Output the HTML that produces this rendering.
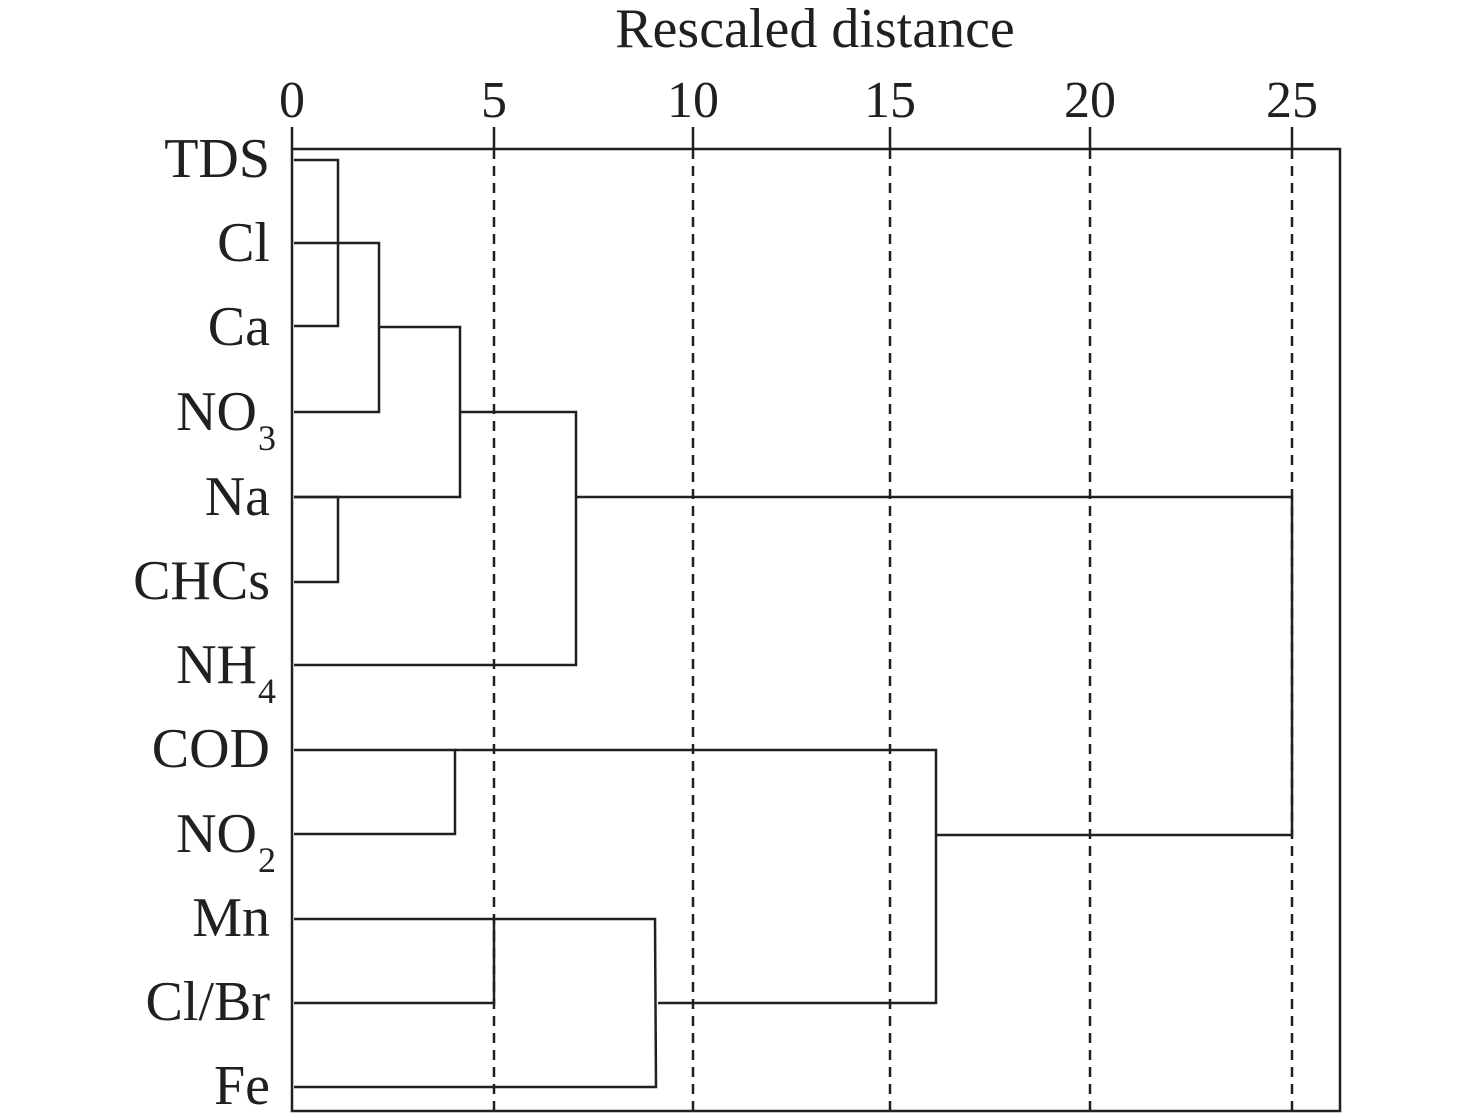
<!DOCTYPE html>
<html><head><meta charset="utf-8"><style>
html,body{margin:0;padding:0;background:#fff;}
svg{display:block;}
text{font-family:"Liberation Serif",serif;fill:#231f20;}
</style></head><body>
<svg width="1476" height="1119" viewBox="0 0 1476 1119" xmlns="http://www.w3.org/2000/svg">
<text x="815" y="47" font-size="56" text-anchor="middle">Rescaled distance</text>
<g font-size="52" text-anchor="middle">
<text x="292" y="117">0</text>
<text x="494" y="117">5</text>
<text x="693" y="117">10</text>
<text x="890" y="117">15</text>
<text x="1090" y="117">20</text>
<text x="1292" y="117">25</text>
</g>
<g stroke="#231f20" stroke-width="2.5" fill="none">
<line x1="292" y1="127" x2="292" y2="149"/>
<line x1="494" y1="127" x2="494" y2="149"/>
<line x1="693" y1="127" x2="693" y2="149"/>
<line x1="890" y1="127" x2="890" y2="149"/>
<line x1="1090" y1="127" x2="1090" y2="149"/>
<line x1="1292" y1="127" x2="1292" y2="149"/>
<g stroke-dasharray="10,7">
<line x1="494" y1="149" x2="494" y2="1111"/>
<line x1="693" y1="149" x2="693" y2="1111"/>
<line x1="890" y1="149" x2="890" y2="1111"/>
<line x1="1090" y1="149" x2="1090" y2="1111"/>
<line x1="1292" y1="149" x2="1292" y2="1111"/>
</g>
<rect x="292" y="149" width="1048" height="962"/>
<polyline points="294,160 338,160 338,326 294,326"/>
<polyline points="294,243 379,243 379,412 294,412"/>
<polyline points="379,327 460,327 460,497 294,497"/>
<polyline points="294,497 338,497 338,582 294,582"/>
<polyline points="460,412 576,412 576,665 294,665"/>
<polyline points="576,497 1292,497 1292,835 936,835"/>
<polyline points="294,750 455,750 455,834 294,834"/>
<polyline points="455,750 936,750 936,1003 658,1003"/>
<polyline points="294,919 494,919 494,1003 294,1003"/>
<polyline points="494,919 655,919 656,1087 294,1087"/>
</g>
<g font-size="56" text-anchor="end">
<text x="270" y="177">TDS</text>
<text x="270" y="261">Cl</text>
<text x="270" y="345">Ca</text>
<text x="257" y="430">NO</text><text x="258" y="450" font-size="36" text-anchor="start">3</text>
<text x="270" y="515">Na</text>
<text x="270" y="599">CHCs</text>
<text x="257" y="683">NH</text><text x="258" y="703" font-size="36" text-anchor="start">4</text>
<text x="270" y="767">COD</text>
<text x="257" y="852">NO</text><text x="258" y="872" font-size="36" text-anchor="start">2</text>
<text x="270" y="936">Mn</text>
<text x="270" y="1020">Cl/Br</text>
<text x="270" y="1104">Fe</text>
</g>
</svg>
</body></html>
